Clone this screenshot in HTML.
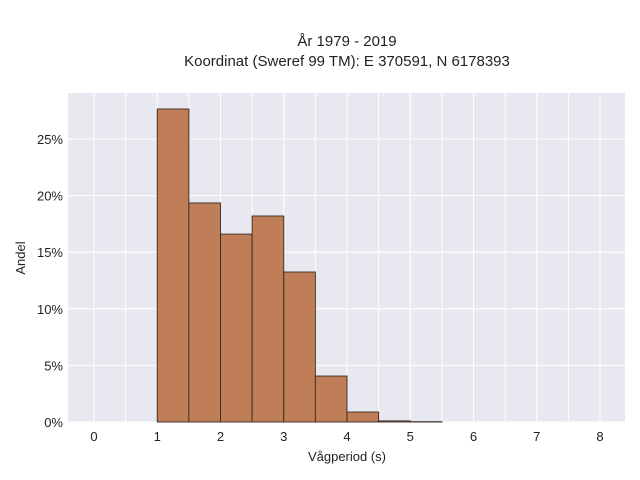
<!DOCTYPE html>
<html><head><meta charset="utf-8"><style>
body{margin:0;background:#fff;}
svg{display:block;font-family:"Liberation Sans",sans-serif;}
</style></head><body>
<svg id="chart" width="640" height="480">
<text x="347" y="46" text-anchor="middle" font-size="15" fill="#222">År 1979 - 2019</text>
<text x="347" y="66" text-anchor="middle" font-size="15" fill="#222">Koordinat (Sweref 99 TM): E 370591, N 6178393</text>
<rect x="68" y="93" width="557" height="329" fill="#e8e8f0"/>
<g id="grid"></g><g id="bars"></g><g id="ticks"></g>
<text x="347" y="461" text-anchor="middle" font-size="13" fill="#222">Vågperiod (s)</text>
<text transform="translate(25,258) rotate(-90)" text-anchor="middle" font-size="13" fill="#222">Andel</text>
</svg>
<script>
const binStarts=[1,1.5,2,2.5,3,3.5,4,4.5,5];
const shares=[27.65,19.35,16.6,18.2,13.25,4.06,0.88,0.1,0.03];
const xTicks=[0,1,2,3,4,5,6,7,8];
const yTicks=[0,5,10,15,20,25];
const binWidth=0.5;
const NS="http://www.w3.org/2000/svg";
const X=v=>94+v*63.25, Y=v=>422-v*11.32;
const grid=document.getElementById('grid'),bars=document.getElementById('bars'),ticks=document.getElementById('ticks');
function mk(p,t,a){const e=document.createElementNS(NS,t);for(const k in a)e.setAttribute(k,a[k]);p.appendChild(e);return e;}
for(let v=0;v<=8.5;v+=0.5){const l=mk(grid,'line',{x1:X(v),x2:X(v),y1:93,y2:422,stroke:'#fff','stroke-width':1});

}
yTicks.forEach(v=>{const l=mk(grid,'line',{x1:68,x2:625,y1:Y(v),y2:Y(v),stroke:'#fff','stroke-width':1});


const t=mk(ticks,'text',{x:63,y:Y(v)+5,'text-anchor':'end','font-size':13,fill:'#222'});t.textContent=v+'%';

});
xTicks.forEach(v=>{const t=mk(ticks,'text',{x:X(v),y:441,'text-anchor':'middle','font-size':13,fill:'#222'});t.textContent=v;

});
binStarts.forEach((s,i)=>{const r=mk(bars,'rect',{x:X(s),y:Y(shares[i]),width:X(s+binWidth)-X(s),height:422-Y(shares[i]),fill:'#bf7d58',stroke:'#3a2a22','stroke-width':0.9});

});
</script>
</body></html>
